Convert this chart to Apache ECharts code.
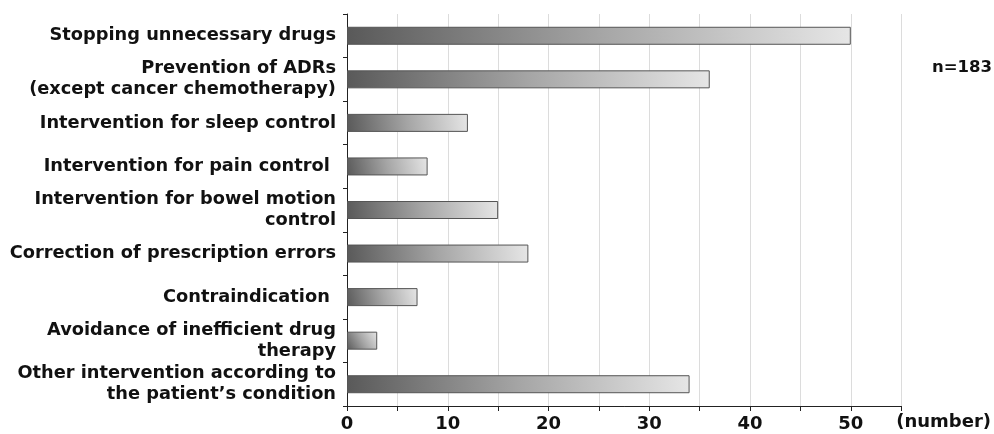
<!DOCTYPE html>
<html><head><meta charset="utf-8">
<script src="https://cdn.jsdelivr.net/npm/echarts@6/dist/echarts.min.js"></script>
<style>html,body{margin:0;padding:0;background:#fff}#c{width:994px;height:434px}</style>
</head><body><div id="c"></div>
<script>
var categories = [
  "Stopping unnecessary drugs",
  "Prevention of ADRs\n(except cancer chemotherapy)",
  "Intervention for sleep control",
  "Intervention for pain control ",
  "Intervention for bowel motion\ncontrol",
  "Correction of prescription errors",
  "Contraindication ",
  "Avoidance of inefficient drug\ntherapy",
  "Other intervention according to\nthe patient\u2019s condition"
];
var values = [50, 36, 12, 8, 15, 18, 7, 3, 34];
var xTickLabels = {0:"0",10:"10",20:"20",30:"30",40:"40",50:"50"};

var chart = echarts.init(document.getElementById('c'));
var FONT = '"DejaVu Sans"';
chart.setOption({
  animation: false,
  title: { text: 'n=183', right: 2, top: 59, padding: 0,
    textStyle: { fontFamily: FONT, fontWeight: 'bold', fontSize: 16.5, color: '#111' } },
  grid: { left: 347, right: 92, top: 14, bottom: 28, containLabel: false },
  xAxis: {
    type: 'value', min: 0, max: 55, interval: 5,
    name: '(number)', nameLocation: 'end', nameGap: -5,
    nameTextStyle: { fontFamily: FONT, fontWeight: 'bold', fontSize: 18, color: '#111',
      align: 'left', verticalAlign: 'top', padding: [7, 0, 0, 0] },
    axisLine: { show: true, lineStyle: { color: '#222', width: 1 } },
    axisTick: { show: true, length: 5, lineStyle: { color: '#222' } },
    splitLine: { show: true, lineStyle: { color: '#dcdcdc', width: 1 } },
    axisLabel: { fontFamily: FONT, fontWeight: 'bold', fontSize: 18, color: '#111', margin: 9,
      formatter: function (v) { return xTickLabels[v] !== undefined ? xTickLabels[v] : ''; } }
  },
  yAxis: {
    type: 'category', data: categories, inverse: true,
    axisLine: { show: true, lineStyle: { color: '#222', width: 1 } },
    axisTick: { show: true, length: 4, lineStyle: { color: '#222' } },
    axisLabel: { fontFamily: FONT, fontWeight: 'bold', fontSize: 17.8, color: '#111',
      margin: 11, lineHeight: 21, align: 'right' }
  },
  series: [{
    type: 'bar', data: values, barWidth: 18,
    itemStyle: {
      borderColor: '#555', borderWidth: 1,
      color: new echarts.graphic.LinearGradient(0, 1, 1, 0, [
        { offset: 0, color: '#595959' },
        { offset: 0.5, color: '#a5a5a5' },
        { offset: 1, color: '#e6e6e6' }
      ])
    }
  }]
});
</script></body></html>
